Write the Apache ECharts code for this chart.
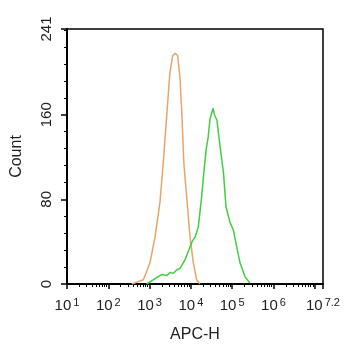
<!DOCTYPE html>
<html>
  <head>
    <meta charset='UTF-8'>
    <title>APC-H histogram</title>
    <script src="https://cdn.jsdelivr.net/npm/echarts@6/dist/echarts.min.js"></script>
    <style>
      html, body { margin: 0; padding: 0; background: #fff; }
    </style>
  </head>
  <body>
    <div id="main" style="width: 345px;height:350px;"></div>
    <script type="text/javascript">
      // x is log10(APC-H), y is count
      var isotypeX = [2.57, 2.85, 3.01, 3.13, 3.25, 3.33, 3.42, 3.49, 3.56, 3.62, 3.68, 3.74, 3.78, 3.83, 3.91, 3.98, 4.06, 4.14, 4.22];
      var isotypeY = [0, 4, 20, 44, 77, 114, 162, 199, 216, 218, 216, 193, 162, 114, 77, 44, 20, 4, 0];

      var stainedX = [2.93, 3.17, 3.30, 3.42, 3.50, 3.57, 3.65, 3.74, 3.80, 3.86, 3.92, 3.98, 4.04, 4.10, 4.18, 4.26, 4.32, 4.37, 4.42, 4.46, 4.52, 4.54, 4.57, 4.63, 4.71, 4.79, 4.85, 4.95, 5.03, 5.11, 5.19, 5.31, 5.43];
      var stainedY = [0, 6, 9, 8, 11, 10, 13, 15, 19, 23, 29, 35, 41, 44, 54, 82, 108, 127, 139, 155, 164, 166, 160, 155, 129, 105, 73, 58, 51, 35, 20, 7, 1];

      var xLabelExp = [1, 2, 3, 4, 5, 6, 7.2];
      var xMajorTicks = [1, 2, 3, 4, 5, 6, 7, 7.2];
      var yLabels = [0, 80, 160, 241];
      var yMinorTicks = [16, 32, 48, 64, 96, 112, 128, 144, 176, 192, 208, 224, 240];

      // minor log ticks 2..9 in each decade
      var xMinorTicks = [];
      for (var d = 1; d < 7.2; d++) {
        for (var k = 2; k <= 9; k++) {
          var v = d + Math.log10(k);
          if (v < 7.2) xMinorTicks.push(v);
        }
      }

      function pairs(xs, ys) {
        return xs.map(function (x, i) { return [x, ys[i]]; });
      }

      var font = '"Liberation Sans", Arial, sans-serif';

      var myChart = echarts.init(document.getElementById('main'));
      var option = {
        animation: false,
        grid: {
          left: 67, top: 29, right: 22, bottom: 66,
          show: true, borderColor: '#000', borderWidth: 1.5, backgroundColor: '#fff'
        },
        xAxis: [
          {
            type: 'value', min: 1, max: 7.2, position: 'bottom',
            name: 'APC-H', nameLocation: 'middle', nameGap: 43,
            nameTextStyle: { fontFamily: font, fontSize: 16, color: '#222' },
            splitLine: { show: false },
            axisLine: { lineStyle: { color: '#000', width: 2 } },
            axisTick: { customValues: xMajorTicks, length: 5, lineStyle: { color: '#000', width: 1.5 } },
            axisLabel: {
              customValues: xLabelExp, margin: 13,
              formatter: function (v) { return '{b|10}{s|' + v + '}'; },
              rich: {
                b: { fontFamily: font, fontSize: 15, color: '#222' },
                s: { fontFamily: font, fontSize: 11, color: '#222', padding: [0, 0, 6, 2] }
              }
            }
          },
          {
            type: 'value', min: 1, max: 7.2, position: 'bottom', offset: 0,
            splitLine: { show: false },
            axisLine: { show: false },
            axisLabel: { show: false },
            axisTick: { customValues: xMinorTicks, length: 3, lineStyle: { color: '#000', width: 1 } }
          }
        ],
        yAxis: [
          {
            type: 'value', min: 0, max: 241, position: 'left',
            name: 'Count', nameLocation: 'middle', nameGap: 42, nameRotate: 90,
            nameTextStyle: { fontFamily: font, fontSize: 16, color: '#222' },
            splitLine: { show: false },
            axisLine: { show: true, lineStyle: { color: '#000', width: 2 } },
            axisTick: { show: true, customValues: yLabels, length: 6, lineStyle: { color: '#000', width: 1.5 } },
            axisLabel: {
              customValues: yLabels, rotate: 90, margin: 13,
              fontFamily: font, fontSize: 15, color: '#222'
            }
          },
          {
            type: 'value', min: 0, max: 241, position: 'left', offset: 0,
            splitLine: { show: false },
            axisLine: { show: false },
            axisLabel: { show: false },
            axisTick: { show: true, customValues: yMinorTicks, length: 3, lineStyle: { color: '#000', width: 1 } }
          }
        ],
        series: [
          {
            name: 'isotype', type: 'line', showSymbol: false,
            lineStyle: { color: '#e9a46b', width: 1.5 },
            data: pairs(isotypeX, isotypeY)
          },
          {
            name: 'stained', type: 'line', showSymbol: false,
            lineStyle: { color: '#3fcf3f', width: 1.5 },
            data: pairs(stainedX, stainedY)
          }
        ]
      };
      myChart.setOption(option);
    </script>
  </body>
</html>
